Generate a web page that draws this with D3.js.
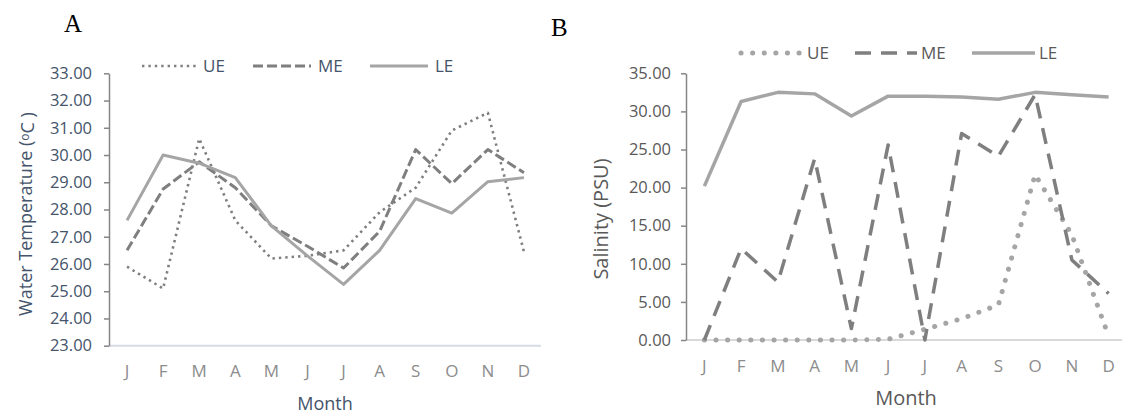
<!DOCTYPE html>
<html>
<head>
<meta charset="utf-8">
<script src="https://cdn.jsdelivr.net/npm/d3@7"></script>
<style>
  body { margin: 0; background: #fff; }
  svg { display: block; font-family: "Open Sans", sans-serif; }
</style>
</head>
<body>
<svg id="chart" width="1122" height="414"></svg>
<script>
// month letters on the x axis
const months = ["J", "F", "M", "A", "M", "J", "J", "A", "S", "O", "N", "D"];
const series = ["UE", "ME", "LE"];

// panel A : water temperature (oC)
const tempUE = [25.9, 25.1, 30.6, 27.6, 26.2, 26.3, 26.5, 27.9, 28.8, 30.9, 31.55, 26.45];
const tempME = [26.5, 28.75, 29.75, 28.8, 27.4, 26.65, 25.85, 27.2, 30.2, 28.95, 30.2, 29.35];
const tempLE = [27.6, 30.0, 29.7, 29.17, 27.4, 26.3, 25.25, 26.5, 28.4, 27.87, 29.02, 29.17];
const tempTicks = d3.range(23, 33.01, 1);

// panel B : salinity (PSU)
const salUE = [0, 0, 0, 0, 0, 0.1, 1.4, 2.8, 4.6, 21.7, 13.8, 0.5];
const salME = [0, 12.0, 7.6, 23.8, 1.5, 25.6, 0, 27.1, 24.1, 32.2, 10.5, 6.1];
const salLE = [20.2, 31.3, 32.5, 32.3, 29.4, 32.0, 32.0, 31.9, 31.6, 32.5, 32.2, 31.9];
const salTicks = d3.range(0, 35.01, 5);

const svg = d3.select("#chart");
const fmt = d3.format(".2f");

function panel(opt) {
  const x = d3.scaleBand().domain(d3.range(12)).range([opt.left, opt.right]).padding(0);
  const y = d3.scaleLinear().domain(opt.domain).range([opt.bottom, opt.top]);
  const g = svg.append("g");

  // x axis (light line, no ticks)
  const xa = g.append("g")
    .attr("transform", "translate(0," + opt.bottom + ")")
    .call(d3.axisBottom(x).tickSize(0).tickPadding(opt.xPad).tickFormat(i => months[i]));
  xa.select(".domain").attr("stroke", opt.xLine).attr("stroke-width", 2)
    .attr("d", "M" + opt.left + ",0H" + opt.xEnd);
  xa.selectAll("text").attr("fill", "#8c8c8c").attr("font-size", 17)
    .attr("font-family", "Open Sans, sans-serif");

  // y axis
  const ya = g.append("g")
    .attr("transform", "translate(" + opt.left + ",0)")
    .call(d3.axisLeft(y).tickValues(opt.ticks).tickSize(5).tickSizeOuter(0)
      .tickPadding(opt.yPad).tickFormat(fmt));
  ya.select(".domain").attr("stroke", "#868686").attr("stroke-width", 1.5);
  ya.selectAll(".tick line").attr("stroke", "#868686").attr("stroke-width", 1.5);
  ya.selectAll("text").attr("fill", opt.textColor).attr("font-size", 16.5)
    .attr("font-family", "Open Sans, sans-serif");

  const line = d3.line().x((d, i) => x(i) + x.bandwidth() / 2).y(d => y(d));

  opt.data.forEach((vals, k) => {
    g.append("path")
      .datum(vals)
      .attr("fill", "none")
      .attr("stroke", opt.styles[k].color)
      .attr("stroke-width", opt.styles[k].width)
      .attr("stroke-dasharray", opt.styles[k].dash)
      .attr("stroke-linecap", opt.styles[k].cap)
      .attr("stroke-linejoin", "round")
      .attr("d", line);
  });

  // legend
  const lg = g.append("g");
  opt.legend.forEach((p, k) => {
    const s = opt.styles[k];
    lg.append("line")
      .attr("x1", p[0]).attr("x2", p[1])
      .attr("y1", opt.legendY).attr("y2", opt.legendY)
      .attr("stroke", s.color).attr("stroke-width", s.width)
      .attr("stroke-dasharray", s.dash).attr("stroke-linecap", s.cap);
    lg.append("text")
      .attr("x", p[1] + opt.legendGap).attr("y", opt.legendY)
      .attr("dy", "0.35em")
      .attr("fill", opt.textColor).attr("font-size", 17)
      .text(series[k]);
  });

  // axis titles
  g.append("text")
    .attr("x", opt.monthX).attr("y", opt.monthY)
    .attr("text-anchor", "middle").attr("dy", "0.35em")
    .attr("fill", opt.titleColor).attr("font-size", opt.titleSize)
    .text("Month");

  const yt = g.append("text")
    .attr("transform", "translate(" + opt.yTitleX + "," + opt.yTitleY + ") rotate(-90)")
    .attr("text-anchor", "middle").attr("dy", "0.35em")
    .attr("fill", opt.titleColor).attr("font-size", opt.titleSize);
  opt.yTitle(yt);

  g.append("text")
    .attr("x", opt.letterX).attr("y", opt.letterY)
    .attr("font-family", "Liberation Serif, Times New Roman, serif")
    .attr("font-size", 25).attr("fill", "#000")
    .text(opt.letter);
}

panel({
  left: 109, right: 542, xEnd: 541, top: 73.3, bottom: 345.7,
  domain: [23, 33], ticks: tempTicks, xPad: 19, yPad: 12,
  xLine: "#d6dce5", textColor: "#44546a", titleColor: "#44546a", titleSize: 18,
  data: [tempUE, tempME, tempLE],
  styles: [
    { color: "#7f7f7f", width: 2.6, dash: "2.4,4", cap: "butt" },
    { color: "#7f7f7f", width: 3, dash: "10,4", cap: "butt" },
    { color: "#a5a5a5", width: 3, dash: null, cap: "butt" }
  ],
  legend: [[142, 196], [253, 311], [370, 428]], legendY: 66, legendGap: 7,
  monthX: 325, monthY: 404,
  yTitleX: 26, yTitleY: 214,
  yTitle: t => {
    t.append("tspan").text("Water Temperature (");
    t.append("tspan").attr("font-size", 12).attr("dy", "-0.3em").text("o");
    t.append("tspan").attr("dy", "0.3em").text("C )");
  },
  letter: "A", letterX: 64, letterY: 32
});

panel({
  left: 686, right: 1127, xEnd: 1122, top: 73.3, bottom: 340,
  domain: [0, 35], ticks: salTicks, xPad: 20, yPad: 10,
  xLine: "#d9d9d9", textColor: "#595959", titleColor: "#595959", titleSize: 20,
  data: [salUE, salME, salLE],
  styles: [
    { color: "#a5a5a5", width: 5, dash: "0.1,11.5", cap: "round" },
    { color: "#7f7f7f", width: 3.5, dash: "16,10", cap: "butt" },
    { color: "#a5a5a5", width: 3.5, dash: null, cap: "butt" }
  ],
  legend: [[741, 803], [855, 917], [972, 1035]], legendY: 53, legendGap: 4,
  monthX: 906, monthY: 398,
  yTitleX: 601, yTitleY: 219,
  yTitle: t => t.text("Salinity (PSU)"),
  letter: "B", letterX: 551, letterY: 36
});
</script>
</body>
</html>
